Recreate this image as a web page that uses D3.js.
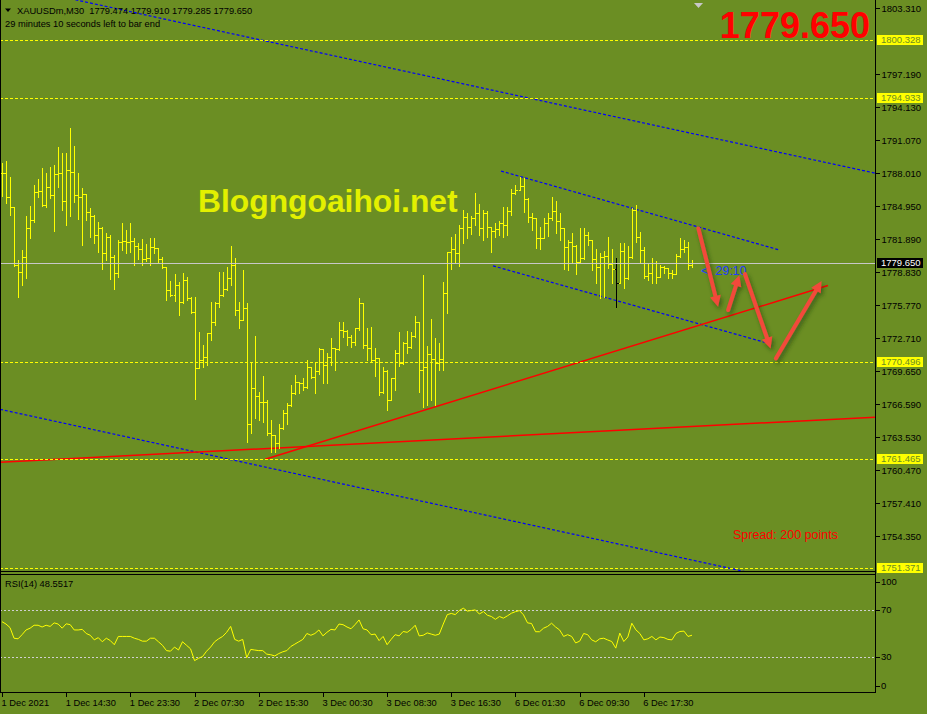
<!DOCTYPE html>
<head>
  <meta charset="utf-8">
  <script src="https://d3js.org/d3.v7.min.js"></script>
  <style>
    body { margin:0; background:#6b8e23; }
    svg { display:block; }
    text { font-family: "Liberation Sans", Arial, sans-serif; }
  </style>
</head>
<body>
<script>
// ---- data (XAUUSDm M30, bar index 0 = 1 Dec 06:30) ----
var barOpen = [
1788.03,1787.97,1785.80,1784.82,1779.44,1778.85,1780.24,1782.87,1783.64,1786.27,
1786.36,1785.03,1786.73,1785.96,1787.91,1788.03,1785.41,1788.28,1788.12,1785.96,
1785.80,1786.05,1784.41,1784.04,1782.25,1782.87,1780.55,1782.09,1780.24,1778.70,
1781.63,1781.72,1781.63,1781.72,1781.23,1780.93,1780.00,1780.09,1781.11,1781.07,
1780.00,1779.26,1777.15,1776.69,1777.61,1776.01,1778.08,1776.38,1775.08,1769.89,
1770.66,1770.96,1773.13,1774.21,1775.97,1776.69,1777.21,1778.23,1779.47,1775.29,
1774.37,1775.45,1764.72,1768.03,1767.32,1766.79,1766.79,1763.86,1763.70,1762.93,
1764.32,1765.71,1766.48,1767.57,1768.64,1768.50,1768.18,1769.98,1769.05,1769.66,
1771.65,1770.19,1770.96,1771.74,1771.65,1773.44,1773.37,1772.82,1772.35,1773.60,
1775.97,1772.05,1771.74,1770.66,1770.81,1767.72,1769.66,1766.95,1768.96,1771.33,
1770.35,1772.26,1771.83,1772.88,1774.15,1769.73,1770.04,1771.21,1770.72,1770.35,
1770.72,1776.84,1780.70,1780.93,1780.55,1782.87,1783.95,1783.02,1783.80,1784.32,
1782.87,1784.32,1783.02,1782.65,1782.78,1783.39,1783.18,1784.51,1786.12,1786.43,
1786.80,1785.60,1783.89,1783.80,1781.95,1782.00,1783.34,1783.80,1784.51,1783.58,
1782.87,1781.17,1781.63,1781.23,1779.77,1780.09,1782.25,1781.79,1780.00,1779.26,
1780.24,1780.30,1779.56,1779.07,1777.77,1780.77,1778.23,1780.18,1784.57,1782.04,
1780.86,1778.45,1778.75,1779.68,1778.38,1779.31,1779.16,1778.70,1778.63,1780.30,
1780.93,1781.11,1779.474];
var barHigh = [
1788.96,1789.14,1787.66,1784.82,1779.93,1780.86,1784.01,1784.94,1786.89,1787.42,
1788.44,1788.03,1788.59,1788.74,1790.44,1789.89,1789.83,1792.15,1790.51,1787.97,
1786.58,1786.05,1784.73,1784.11,1783.49,1782.97,1782.41,1782.25,1780.40,1781.79,
1783.34,1782.72,1783.39,1781.95,1781.48,1781.91,1781.42,1781.95,1781.95,1781.07,
1780.24,1779.31,1777.98,1778.63,1777.92,1778.70,1778.38,1776.53,1776.53,1773.28,
1772.05,1773.13,1776.06,1776.06,1778.85,1778.85,1779.31,1781.23,1780.09,1776.06,
1779.00,1775.97,1770.35,1772.88,1767.72,1769.17,1766.95,1765.09,1763.70,1764.72,
1766.02,1766.70,1768.34,1769.26,1768.64,1768.96,1770.66,1770.04,1770.50,1771.80,
1771.65,1771.33,1772.72,1771.74,1774.21,1774.21,1773.44,1772.98,1773.60,1776.38,
1775.97,1773.60,1773.69,1771.74,1770.81,1770.04,1769.73,1768.96,1771.58,1773.28,
1772.35,1773.37,1773.28,1774.77,1774.21,1778.54,1771.96,1774.46,1772.67,1772.21,
1777.92,1780.70,1782.04,1782.34,1783.18,1784.57,1784.32,1784.01,1786.12,1785.13,
1784.57,1784.51,1783.02,1783.34,1783.58,1784.88,1784.88,1786.49,1786.89,1787.60,
1787.51,1785.65,1784.32,1783.85,1783.02,1783.80,1784.26,1785.80,1785.43,1784.32,
1782.87,1781.79,1782.41,1781.32,1782.87,1782.87,1782.56,1781.79,1780.93,1780.61,
1780.77,1782.04,1780.93,1780.09,1781.48,1781.54,1781.23,1784.73,1785.03,1782.56,
1781.17,1779.63,1780.09,1779.87,1779.47,1779.38,1779.16,1779.00,1780.46,1781.95,
1781.79,1781.63,1779.910];
var barLow = [
1785.87,1785.25,1784.11,1779.38,1776.53,1777.61,1778.29,1781.95,1783.49,1785.80,
1784.94,1784.88,1785.66,1782.65,1786.73,1784.57,1783.18,1784.01,1785.34,1783.74,
1781.32,1783.64,1782.09,1781.54,1780.70,1779.10,1779.93,1778.17,1777.24,1778.38,
1780.86,1780.61,1780.70,1779.50,1780.00,1779.50,1779.81,1779.50,1780.61,1779.72,
1779.16,1776.22,1776.59,1776.13,1774.83,1775.95,1776.22,1774.99,1767.10,1769.89,
1770.04,1770.19,1772.51,1773.90,1775.60,1776.60,1777.15,1777.61,1774.83,1773.60,
1774.37,1763.08,1763.86,1765.25,1765.09,1764.93,1763.70,1762.15,1762.15,1762.47,
1764.23,1764.78,1766.40,1767.50,1767.62,1767.87,1768.10,1768.96,1767.57,1769.36,
1768.50,1768.55,1770.19,1769.73,1771.60,1772.82,1772.05,1771.89,1772.05,1773.44,
1771.74,1770.66,1770.50,1769.17,1767.41,1767.65,1766.02,1766.95,1767.87,1770.10,
1770.30,1771.33,1771.80,1772.82,1767.72,1766.32,1766.48,1766.95,1766.48,1769.73,
1769.73,1775.04,1779.07,1779.63,1779.38,1781.48,1781.95,1782.34,1783.18,1782.25,
1781.79,1782.09,1780.65,1782.09,1782.25,1782.09,1782.25,1784.11,1786.05,1786.40,
1784.41,1783.49,1782.72,1781.02,1780.95,1781.95,1782.16,1783.64,1782.41,1781.79,
1779.07,1779.00,1779.68,1778.61,1779.70,1780.05,1781.32,1779.00,1777.77,1776.44,
1776.53,1779.16,1777.77,1775.54,1777.77,1777.31,1778.14,1780.09,1781.63,1779.77,
1778.23,1778.08,1777.77,1777.77,1778.38,1778.70,1778.23,1778.23,1778.60,1780.25,
1780.70,1779.07,1779.285];
var barClose = [
1787.97,1785.80,1784.82,1779.44,1778.85,1780.24,1782.87,1783.64,1786.27,1786.36,
1785.03,1786.73,1785.96,1787.91,1788.03,1785.41,1788.28,1788.12,1785.96,1785.80,
1786.05,1784.41,1784.04,1782.25,1782.87,1780.55,1782.09,1780.24,1778.70,1781.63,
1781.72,1781.63,1781.72,1781.23,1780.93,1780.00,1780.09,1781.11,1781.07,1780.00,
1779.26,1777.15,1776.69,1777.61,1776.01,1778.08,1776.38,1775.08,1769.89,1770.66,
1770.96,1773.13,1774.21,1775.97,1776.69,1777.21,1778.23,1779.47,1775.29,1774.37,
1775.45,1764.72,1768.03,1767.32,1766.79,1766.79,1763.86,1763.70,1762.93,1764.32,
1765.71,1766.48,1767.57,1768.64,1768.50,1768.18,1769.98,1769.05,1769.66,1771.65,
1770.19,1770.96,1771.74,1771.65,1773.44,1773.37,1772.82,1772.35,1773.60,1775.97,
1772.05,1771.74,1770.66,1770.81,1767.72,1769.66,1766.95,1768.96,1771.33,1770.35,
1772.26,1771.83,1772.88,1774.15,1769.73,1770.04,1771.21,1770.72,1770.35,1770.72,
1776.84,1780.70,1780.93,1780.55,1782.87,1783.95,1783.02,1783.80,1784.32,1782.87,
1784.32,1783.02,1782.65,1782.78,1783.39,1783.18,1784.51,1786.12,1786.43,1786.80,
1785.60,1783.89,1783.80,1781.95,1782.00,1783.34,1783.80,1784.51,1783.58,1782.87,
1781.17,1781.63,1781.23,1779.77,1780.09,1782.25,1781.79,1780.00,1779.26,1780.24,
1780.30,1779.56,1779.07,1777.77,1780.77,1778.23,1780.18,1784.57,1782.04,1780.86,
1778.45,1778.75,1779.68,1778.38,1779.31,1779.16,1778.70,1778.63,1780.30,1780.93,
1781.11,1779.47,1779.650];
var blackBarIndex = 153;

var rsiValues = [
60,58,55,46,45.5,49,53,54.5,57,57,
55.5,57,56,59,58,54.5,58.2,57.5,53,53,
53.5,50,48.5,44.6,46.5,43,46,44,40.5,47.5,
47.5,47.5,47.5,46,45,43.5,43.5,46,46,43,
40,35.5,35,38.5,36,43,40,37,27,29,
30.5,35,38.5,43,45.5,47.5,51,56,45,43.5,
45,29.5,36.5,36,35.5,35.5,32.5,32,31,33,
34.5,35.5,39,41,43,45,50,48.5,50,53,
48,51,53.5,53,58,57.5,55.5,54,57.5,61.5,
54,53,49,49.5,44,47.5,40.5,45,49,48,
51.7,51,53.5,57,48,48.5,50.5,49.5,48.5,49.5,
58,66,67,66,69.5,71.4,69,69.5,70,66.5,
68.6,65.5,64.4,62,64.4,63,65,67.2,68.5,69.4,
65.8,59,58.5,51.5,51.5,54.5,56,58.7,55.5,53,
47.5,49,47.5,42,43.5,50,49,44.6,43,45.5,
46,44.5,43.2,37.6,50.3,43.2,47,58.7,53.1,50,
44.6,45.5,47.5,44.6,47,46.5,45,44.6,50,51.7,
52,47.5,48.55];
var rsiLevels = [70, 30];
var rsiTicks = [100, 70, 30, 0];

var priceTicks = [1803.310, 1797.190, 1794.130, 1791.070, 1788.010, 1784.950, 1781.890,
  1778.830, 1775.770, 1772.710, 1769.650, 1766.590, 1763.530, 1760.470, 1757.410, 1754.350];
var priceLevels = [1800.328, 1794.933, 1770.496, 1761.465, 1751.371];
var bidPrice = 1779.650;

var timeLabels = ["1 Dec 2021", "1 Dec 14:30", "1 Dec 23:30", "2 Dec 07:30", "2 Dec 15:30",
  "3 Dec 00:30", "3 Dec 08:30", "3 Dec 16:30", "6 Dec 01:30", "6 Dec 09:30", "6 Dec 17:30"];
var timeLabelBars = [0, 16, 32, 48, 64, 80, 96, 112, 128, 144, 160];

// trend lines as [bar index, price] pairs
var blueLines = [
  [[0, 1805.55], [217.6, 1788.00]],
  [[-0.5, 1766.10], [200, 1749.85]],
  [[124.4, 1788.19], [193.9, 1780.86]],
  [[122.4, 1779.40], [190.6, 1772.26]]
];
var redLines = [
  [[65.6, 1761.47], [205.9, 1777.57]],
  [[-0.5, 1761.19], [217.6, 1765.37]]
];
var arrows = [
  [[173.6, 1782.87], [178.5, 1775.60]],
  [[181.0, 1775.30], [183.8, 1778.54]],
  [[185.2, 1778.63], [191.6, 1771.74]],
  [[192.9, 1770.81], [204.3, 1777.99]]
];

// ---- layout ----
var W = 927, H = 714;
var right = 875.5;
var mainBottom = 571.5, rsiTop = 574.5, rsiBottom = 692.5;

var svg = d3.select("body").append("svg").attr("width", W).attr("height", H);
svg.append("rect").attr("width", W).attr("height", H).attr("fill", "#6b8e23");

var defs = svg.append("defs");
defs.append("clipPath").attr("id", "mainClip").append("rect")
  .attr("x", 0).attr("y", 0).attr("width", right).attr("height", mainBottom);
defs.append("clipPath").attr("id", "rsiClip").append("rect")
  .attr("x", 0).attr("y", rsiTop).attr("width", right).attr("height", rsiBottom - rsiTop);
var sh = defs.append("filter").attr("id", "shadow")
  .attr("x", "-50%").attr("y", "-50%").attr("width", "200%").attr("height", "200%");
sh.append("feDropShadow").attr("dx", 2).attr("dy", 3).attr("stdDeviation", 2)
  .attr("flood-color", "#1d3a08").attr("flood-opacity", 0.6);

var x = d3.scaleLinear().domain([0, 172]).range([2, 692]);
var y = d3.scaleLinear().domain([1754.35, 1803.31]).range([536, 8]);
var yr = d3.scaleLinear().domain([0, 100]).range([rsiBottom, rsiTop]);

var main = svg.append("g").attr("clip-path", "url(#mainClip)");

// watermark
main.append("text").attr("x", 198).attr("y", 212)
  .attr("font-size", "31.8px").attr("font-weight", "bold").attr("fill", "#e3f000")
  .text("Blogngoaihoi.net");

// blue dotted trend lines
main.selectAll(".blue").data(blueLines).enter().append("line")
  .attr("x1", function(d) { return x(d[0][0]); }).attr("y1", function(d) { return y(d[0][1]); })
  .attr("x2", function(d) { return x(d[1][0]); }).attr("y2", function(d) { return y(d[1][1]); })
  .attr("stroke", "#0000ff").attr("stroke-width", 1.2).attr("stroke-dasharray", "3,2");

// red trend lines
main.selectAll(".red").data(redLines).enter().append("line")
  .attr("x1", function(d) { return x(d[0][0]); }).attr("y1", function(d) { return y(d[0][1]); })
  .attr("x2", function(d) { return x(d[1][0]); }).attr("y2", function(d) { return y(d[1][1]); })
  .attr("stroke", "#ff0000").attr("stroke-width", 1.5);

// OHLC bars
var idx = d3.range(barClose.length);
main.selectAll(".bar").data(idx).enter().append("path")
  .attr("d", function(i) {
    var bx = Math.round(x(i)) + 0.5;
    var yo = Math.round(y(barOpen[i])) + 0.5, yc = Math.round(y(barClose[i])) + 0.5;
    return "M" + bx + "," + Math.round(y(barHigh[i])) + "V" + (Math.round(y(barLow[i])) + 1) +
      "M" + (bx - 2) + "," + yo + "H" + bx +
      "M" + bx + "," + yc + "H" + (bx + 2);
  })
  .attr("fill", "none")
  .attr("stroke", function(i) { return i === blackBarIndex ? "#000000" : "#ffff00"; })
  .attr("stroke-width", 1.2)
  .attr("shape-rendering", "crispEdges");

// horizontal yellow levels
main.selectAll(".lvl").data(priceLevels).enter().append("line")
  .attr("x1", 0).attr("x2", right)
  .attr("y1", function(d) { return Math.round(y(d)) + 0.5; })
  .attr("y2", function(d) { return Math.round(y(d)) + 0.5; })
  .attr("stroke", "#ffff00").attr("stroke-width", 1).attr("stroke-dasharray", "3,2")
  .attr("shape-rendering", "crispEdges");

// bid line
main.append("line").attr("x1", 0).attr("x2", right)
  .attr("y1", Math.round(y(bidPrice)) + 0.5).attr("y2", Math.round(y(bidPrice)) + 0.5)
  .attr("stroke", "#c8c8c8").attr("stroke-width", 1).attr("shape-rendering", "crispEdges");

// time left label
main.append("text").attr("x", 701).attr("y", 275)
  .attr("font-size", "12.5px").attr("fill", "#1f3cff")
  .style("white-space", "pre").text("<  29:10");

// spread
main.append("text").attr("x", 733).attr("y", 539)
  .attr("font-size", "12.5px").attr("fill", "#ff0000").text("Spread: 200 points");

// hand drawn arrows
var ag = main.append("g").attr("filter", "url(#shadow)");
arrows.forEach(function(a) {
  var x1 = x(a[0][0]), y1 = y(a[0][1]), x2 = x(a[1][0]), y2 = y(a[1][1]);
  var dx = x2 - x1, dy = y2 - y1, len = Math.sqrt(dx * dx + dy * dy);
  var ux = dx / len, uy = dy / len, hl = 11, hw = 5.5;
  var bx = x2 - ux * hl, by = y2 - uy * hl;
  ag.append("line").attr("x1", x1).attr("y1", y1).attr("x2", bx + ux).attr("y2", by + uy)
    .attr("stroke", "#f24a3a").attr("stroke-width", 4).attr("stroke-linecap", "round");
  ag.append("path")
    .attr("d", "M" + x2 + "," + y2 + "L" + (bx - uy * hw) + "," + (by + ux * hw) +
      "L" + (bx + uy * hw) + "," + (by - ux * hw) + "Z")
    .attr("fill", "#f24a3a");
});

// big price
svg.append("text").attr("x", 870).attr("y", 38).attr("text-anchor", "end")
  .attr("font-size", "36px").attr("font-weight", "bold").attr("fill", "#ff0000")
  .text("1779.650");

// header
svg.append("path").attr("d", "M5,8.5L11,8.5L8,12Z").attr("fill", "#000");
svg.append("text").attr("x", 17).attr("y", 13.5).attr("font-size", "9.3px").attr("fill", "#000")
  .style("white-space", "pre").text("XAUUSDm,M30  1779.474 1779.910 1779.285 1779.650");
svg.append("text").attr("x", 5).attr("y", 26.5).attr("font-size", "9.3px").attr("fill", "#000")
  .text("29 minutes 10 seconds left to bar end");
svg.append("path").attr("d", "M694,3L703,3L698.5,8Z").attr("fill", "#c8c8c8");

// ---- RSI pane ----
var rsiG = svg.append("g").attr("clip-path", "url(#rsiClip)");
rsiG.selectAll(".rl").data(rsiLevels).enter().append("line")
  .attr("x1", 0).attr("x2", right)
  .attr("y1", function(d) { return Math.round(yr(d)) + 0.5; })
  .attr("y2", function(d) { return Math.round(yr(d)) + 0.5; })
  .attr("stroke", "#d0d0d0").attr("stroke-dasharray", "2,2").attr("shape-rendering", "crispEdges");
rsiG.append("path").datum(rsiValues)
  .attr("d", d3.line().x(function(d, i) { return x(i); }).y(function(d) { return yr(d); }))
  .attr("fill", "none").attr("stroke", "#ffff00").attr("stroke-width", 1);
svg.append("text").attr("x", 5).attr("y", 587).attr("font-size", "9.3px").attr("fill", "#000")
  .text("RSI(14) 48.5517");

// ---- frame ----
var frame = svg.append("g").attr("stroke", "#000").attr("stroke-width", 1).attr("shape-rendering", "crispEdges");
frame.append("line").attr("x1", 0.5).attr("x2", 0.5).attr("y1", 0).attr("y2", rsiBottom);
frame.append("line").attr("x1", right).attr("x2", right).attr("y1", 0).attr("y2", rsiBottom);
frame.append("line").attr("x1", 0).attr("x2", right).attr("y1", mainBottom).attr("y2", mainBottom);
frame.append("line").attr("x1", 0).attr("x2", right).attr("y1", rsiTop).attr("y2", rsiTop);
frame.append("line").attr("x1", 0).attr("x2", right).attr("y1", rsiBottom).attr("y2", rsiBottom);

// ---- price axis ----
var yAxis = d3.axisRight(y).tickValues(priceTicks).tickSize(4).tickPadding(2)
  .tickFormat(d3.format(".3f"));
var ya = svg.append("g").attr("transform", "translate(" + right + ",0)").call(yAxis);
ya.select(".domain").remove();
ya.selectAll("text").attr("font-family", "Liberation Sans, Arial, sans-serif")
  .attr("font-size", "9.5px").attr("fill", "#000");
ya.selectAll("line").attr("stroke", "#000").attr("shape-rendering", "crispEdges");

// highlighted level labels
var hl = svg.selectAll(".hl").data(priceLevels).enter().append("g")
  .attr("transform", function(d) { return "translate(877," + Math.round(y(d)) + ")"; });
hl.append("rect").attr("x", 0).attr("y", -5).attr("width", 46).attr("height", 10).attr("fill", "#ffff00");
hl.append("text").attr("x", 4).attr("y", 3.4).attr("font-size", "9.5px").attr("fill", "#6b8e23")
  .text(function(d) { return d3.format(".3f")(d); });

var bid = svg.append("g").attr("transform", "translate(877," + Math.round(y(bidPrice)) + ")");
bid.append("rect").attr("x", 0).attr("y", -5).attr("width", 46).attr("height", 10).attr("fill", "#000");
bid.append("text").attr("x", 4).attr("y", 3.4).attr("font-size", "9.5px").attr("fill", "#fff")
  .text(d3.format(".3f")(bidPrice));

// RSI scale labels
var rsiPos = function(d) { return d === 100 ? yr(d) + 7 : d === 0 ? yr(d) - 7 : yr(d); };
svg.selectAll(".rt").data(rsiTicks).enter().append("line")
  .attr("x1", right).attr("x2", right + 4)
  .attr("y1", function(d) { return Math.round(rsiPos(d)) + 0.5; })
  .attr("y2", function(d) { return Math.round(rsiPos(d)) + 0.5; })
  .attr("stroke", "#000").attr("shape-rendering", "crispEdges");
svg.selectAll(".rtt").data(rsiTicks).enter().append("text")
  .attr("x", 881).attr("y", function(d) { return rsiPos(d) + 3.3; })
  .attr("font-size", "9.5px").attr("fill", "#000").text(function(d) { return d; });

// ---- time axis ----
var xAxis = d3.axisBottom(x).tickValues(timeLabelBars).tickSize(4)
  .tickFormat(function(d, i) { return timeLabels[i]; });
var xa = svg.append("g").attr("transform", "translate(0," + rsiBottom + ")").call(xAxis);
xa.select(".domain").remove();
xa.selectAll("text").attr("text-anchor", "start").attr("x", -1)
  .attr("font-family", "Liberation Sans, Arial, sans-serif")
  .attr("font-size", "9.3px").attr("fill", "#000");
xa.selectAll("line").attr("stroke", "#000").attr("shape-rendering", "crispEdges");
</script>
</body>
